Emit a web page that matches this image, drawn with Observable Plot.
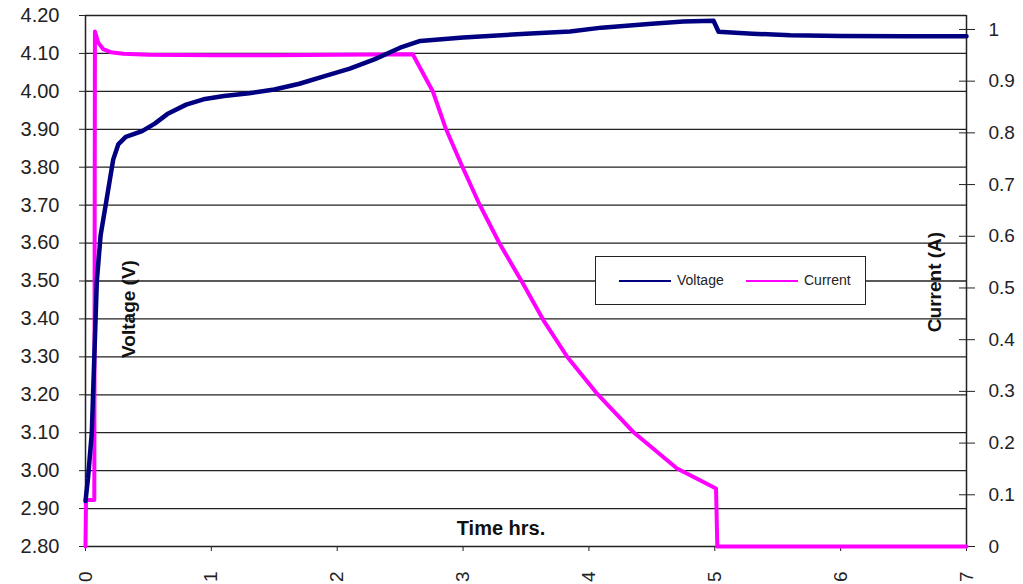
<!DOCTYPE html>
<html><head><meta charset="utf-8">
<script src="https://cdn.jsdelivr.net/npm/d3@7"></script>
<script src="https://cdn.jsdelivr.net/npm/@observablehq/plot@0.6"></script>
<style>
body{margin:0;background:#fff;}
#wrap{position:relative;width:1023px;height:584px;font-family:"Liberation Sans",Arial,sans-serif;overflow:hidden;}
#legend{position:absolute;left:595px;top:256px;width:271px;height:49px;border:1.5px solid #222;background:#fff;box-sizing:border-box;color:#222;font-size:14px;}
#legend .sw{position:absolute;top:23px;width:52px;height:2px;}
#legend .lb{position:absolute;top:15px;line-height:16px;}
</style></head><body><div id="wrap"></div>
<script>
const hours = [0, 1, 2, 3, 4, 5, 6, 7];
const voltTicks = [2.8, 2.9, 3.0, 3.1, 3.2, 3.3, 3.4, 3.5, 3.6, 3.7, 3.8, 3.9, 4.0, 4.1, 4.2];
const currTicks = [0, 0.1, 0.2, 0.3, 0.4, 0.5, 0.6, 0.7, 0.8, 0.9, 1];
const currMax = 1.027;
const seriesNames = ["Voltage", "Current"];
const seriesColors = ["#000080", "#ff00ff"];

const timeV = [0, 0.02, 0.05, 0.07, 0.09, 0.12, 0.17, 0.22, 0.26, 0.32, 0.45, 0.55, 0.65, 0.8, 0.95, 1.1, 1.3, 1.5, 1.7, 1.9, 2.1, 2.3, 2.5, 2.66, 3.0, 3.5, 3.85, 4.1, 4.5, 4.75, 4.99, 5.03, 5.3, 5.6, 6.0, 6.5, 7.0];
const voltage = [2.92, 2.98, 3.10, 3.30, 3.50, 3.62, 3.72, 3.82, 3.86, 3.88, 3.895, 3.915, 3.94, 3.965, 3.98, 3.988, 3.995, 4.005, 4.02, 4.04, 4.06, 4.085, 4.115, 4.133, 4.142, 4.152, 4.158, 4.168, 4.178, 4.184, 4.186, 4.157, 4.152, 4.148, 4.146, 4.145, 4.145];

const timeI = [0, 0.004, 0.07, 0.075, 0.1, 0.14, 0.2, 0.3, 0.5, 1.0, 1.5, 2.0, 2.6, 2.76, 2.86, 2.99, 3.13, 3.29, 3.47, 3.64, 3.83, 4.07, 4.35, 4.70, 5.01, 5.02, 7.0];
const current = [0, 0.09, 0.09, 0.996, 0.975, 0.962, 0.956, 0.953, 0.951, 0.95, 0.95, 0.951, 0.952, 0.880, 0.810, 0.737, 0.662, 0.586, 0.511, 0.437, 0.366, 0.294, 0.222, 0.151, 0.112, 0, 0];

const vMin = voltTicks[0], vMax = voltTicks[voltTicks.length - 1];
const toV = c => vMin + c * (vMax - vMin) / currMax;
const vData = timeV.map((t, i) => ({t, v: voltage[i]}));
const iData = timeI.map((t, i) => ({t, v: toV(current[i])}));
const rightMap = new Map(currTicks.map(c => [toV(c), String(c)]));
const font = "'Liberation Sans', Arial, sans-serif";

const plot = Plot.plot({
  width: 1023, height: 584,
  marginLeft: 85, marginRight: 57, marginTop: 15, marginBottom: 38,
  style: {fontFamily: font, fontSize: "20px", color: "#222", background: "#fff"},
  x: {domain: [0, 7]},
  y: {domain: [vMin, vMax]},
  marks: [
    Plot.ruleY(voltTicks, {stroke: "#222", strokeWidth: 1.3}),
    Plot.ruleX([0, 7], {stroke: "#222", strokeWidth: 1.5}),
    Plot.axisY({anchor: "left", ticks: voltTicks, tickFormat: d3.format(".2f"), tickSize: 6, tickPadding: 20, fontSize: 20, label: null}),
    Plot.axisY({anchor: "right", ticks: currTicks.map(toV), tickFormat: d => rightMap.get(d), tickSize: 16, dx: -8, tickPadding: 14, fontSize: 19, label: null}),
    Plot.axisX({ticks: hours, tickFormat: d3.format("d"), tickRotate: -90, tickSize: 5, tickPadding: 20, fontSize: 19, label: null}),
    Plot.line(iData, {x: "t", y: "v", stroke: seriesColors[1], strokeWidth: 4}),
    Plot.line(vData, {x: "t", y: "v", stroke: seriesColors[0], strokeWidth: 4.5}),
    Plot.text(["Voltage (V)"], {frameAnchor: "left", textAnchor: "middle", dx: 43, dy: 28, rotate: -90, fontWeight: "bold", fontSize: 19, fill: "#111"}),
    Plot.text(["Current (A)"], {frameAnchor: "right", textAnchor: "middle", dx: -32, dy: 1, rotate: -90, fontWeight: "bold", fontSize: 19, fill: "#111"}),
    Plot.text(["Time hrs."], {frameAnchor: "bottom", dx: -25, dy: -12, fontWeight: "bold", fontSize: 20, fill: "#111"})
  ]
});
const wrap = document.getElementById("wrap");
wrap.appendChild(plot);

const leg = document.createElement("div");
leg.id = "legend";
const swLeft = [23, 150], lbLeft = [81, 208];
seriesNames.forEach((n, i) => {
  const s = document.createElement("div");
  s.className = "sw"; s.style.left = swLeft[i] + "px"; s.style.background = seriesColors[i];
  const l = document.createElement("div");
  l.className = "lb"; l.style.left = lbLeft[i] + "px"; l.textContent = n;
  leg.appendChild(s); leg.appendChild(l);
});
wrap.appendChild(leg);
</script>
</body></html>
